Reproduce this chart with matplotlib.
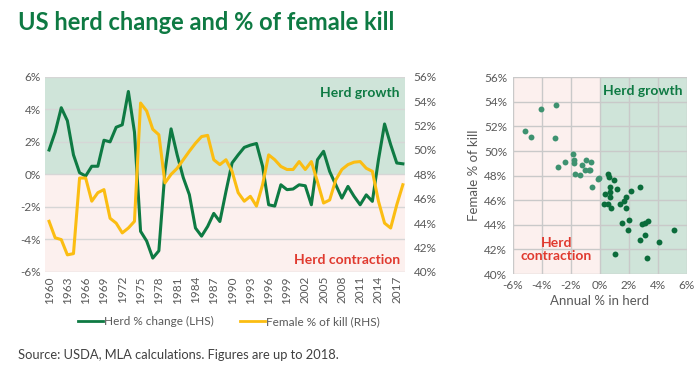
import numpy as np
import matplotlib.pyplot as plt
from matplotlib.lines import Line2D

plt.rcParams['font.family'] = ['Lato', 'DejaVu Sans']

years = list(range(1960, 2019))
herd_change = [1.5, 2.6, 4.1, 3.3, 1.2, 0.1, -0.1, 0.5, 0.5, 2.1,
               2.0, 2.9, 3.05, 5.1, 2.6, -3.5, -4.1, -5.15, -4.7, 0.2,
               2.8, 1.2, -0.2, -1.25, -3.3, -3.8, -3.2, -2.4, -2.9, -1.05,
               0.7, 1.2, 1.66, 1.8, 1.9, 0.5, -1.87, -1.95, -0.64, -0.94,
               -0.9, -0.64, -0.7, -1.87, 0.9, 1.42, 0.18, -0.64, -1.46, -0.74,
               -1.35, -1.87, -1.26, -1.66, 0.9, 3.1, 1.83, 0.7, 0.65]
female_kill = [44.15, 42.8, 42.65, 41.4, 41.5, 47.7, 47.7, 45.8, 46.5, 46.75,
               44.4, 44.0, 43.2, 43.6, 44.15, 53.85, 53.2, 51.7, 51.25, 47.3,
               48.0, 48.5, 49.2, 49.9, 50.55, 51.1, 51.2, 49.2, 48.8, 49.2,
               48.25, 46.5, 45.8, 46.2, 45.4, 47.15, 49.6, 49.2, 48.65, 48.4,
               48.4, 49.05, 48.4, 49.05, 47.4, 45.65, 45.9, 47.55, 48.4, 48.8,
               49.0, 49.05, 48.5, 48.25, 45.8, 44.0, 43.6, 45.5, 47.15]

# scatter: annual % in herd vs female % of kill
sc_herd = [-5.17, -4.71, -4.03, -3.04, -3.09, -2.86, -2.4, -1.85, -1.78, -1.78,
           -1.72, -1.33, -1.21, -1.03, -0.94, -0.76, -0.6, -0.64, -0.53, -0.11,
           -0.02, 0.57, 0.66, 0.96, 0.69, 0.69, 0.39, 0.73, 1.19, 2.15,
           2.79, 1.81, 1.65, 1.42, 1.81, 0.27, 0.57, 0.78, 1.53, 1.99,
           1.95, 2.91, 3.09, 3.32, 3.09, 2.75, 4.1, 5.13, 1.03, 3.25]
sc_female = [51.64, 51.12, 53.4, 53.75, 51.1, 48.68, 49.14, 49.74, 49.28, 49.0,
             48.11, 48.06, 48.87, 48.47, 49.28, 48.47, 49.09, 48.47, 47.06, 47.73,
             47.79, 48.11, 47.87, 47.65, 47.11, 46.7, 46.49, 46.3, 46.89, 46.76,
             47.11, 46.3, 45.95, 45.67, 45.4, 45.7, 45.7, 45.4, 44.13, 44.4,
             43.59, 44.08, 44.18, 44.32, 43.18, 42.78, 42.61, 43.59, 41.61, 41.34]

GREEN = '#0e7a43'
YELLOW = '#fbbd12'
RED = '#e03a2f'
BG_GREEN = '#cfe4d9'
BG_PINK = '#fcf0ee'
GRID = '#d6d6d6'
TXT = '#595959'

fig = plt.figure(figsize=(7, 3.73), dpi=100)

fig.text(0.026, 0.94, 'US herd change and % of female kill', fontsize=17,
         fontweight='bold', color=GREEN, va='center', ha='left')

# left chart
ax = fig.add_axes([0.064, 0.271, 0.515, 0.523])
ax.axhspan(0, 6, color=BG_GREEN, zorder=0, lw=0)
ax.axhspan(-6, 0, color=BG_PINK, zorder=0, lw=0)
ax.set_axisbelow(True)
ax.yaxis.grid(True, color=GRID, lw=1)
ax.set_ylim(-6, 6)
ax.set_xlim(1959.3, 2018.4)
ax.set_yticks(range(-6, 7, 2))
ax.set_yticklabels([f'{v}%' for v in range(-6, 7, 2)])
ax.set_xticks(years[::3])
ax.set_xticklabels([str(y) for y in years[::3]], rotation=90)
for s in ax.spines.values():
    s.set_visible(False)
ax.tick_params(length=0, labelsize=8.5, colors=TXT, pad=3)
ax.plot(years, herd_change, color=GREEN, lw=2.2, solid_joinstyle='round', zorder=3)

ax2 = ax.twinx()
ax2.set_ylim(40, 56)
ax2.set_yticks(range(40, 57, 2))
ax2.set_yticklabels([f'{v}%' for v in range(40, 57, 2)])
for s in ax2.spines.values():
    s.set_visible(False)
ax2.tick_params(length=0, labelsize=8.5, colors=TXT, pad=6)
ax2.plot(years, female_kill, color=YELLOW, lw=2.2, solid_joinstyle='round', zorder=3)

ax.text(0.985, 0.915, 'Herd growth', transform=ax.transAxes, ha='right', va='center',
        fontsize=10, fontweight='bold', color=GREEN)
ax.text(0.985, 0.06, 'Herd contraction', transform=ax.transAxes, ha='right', va='center',
        fontsize=10, fontweight='bold', color=RED)

handles = [Line2D([], [], color=GREEN, lw=2), Line2D([], [], color=YELLOW, lw=2)]
fig.legend(handles, ['Herd % change (LHS)', 'Female % of kill (RHS)'], ncol=2,
           loc='center', bbox_to_anchor=(0.327, 0.137), frameon=False,
           fontsize=8.5, labelcolor=TXT, handlelength=2.1, handletextpad=0.1,
           columnspacing=2.2)

fig.text(0.026, 0.048, 'Source: USDA, MLA calculations. Figures are up to 2018.',
         fontsize=9.3, color='#404040', ha='left', va='center')

# right scatter
bx = fig.add_axes([0.7324, 0.2654, 0.2486, 0.5274])
bx.axvspan(-6, 0, color=BG_PINK, zorder=0, lw=0)
bx.axvspan(0, 6, color=BG_GREEN, zorder=0, lw=0)
bx.set_axisbelow(True)
bx.grid(True, color='#c9c9c9', lw=1)
bx.set_xlim(-6, 6)
bx.set_ylim(40, 56)
bx.set_xticks(range(-6, 7, 2))
bx.set_xticklabels([f'{v}%' for v in range(-6, 7, 2)])
bx.set_yticks(range(40, 57, 2))
bx.set_yticklabels([f'{v}%' for v in range(40, 57, 2)])
for s in bx.spines.values():
    s.set_visible(False)
bx.tick_params(length=0, labelsize=8.5, colors=TXT, pad=4)
bx.set_xlabel('Annual % in herd', fontsize=9.5, color=TXT, labelpad=3)
bx.set_ylabel('Female % of kill', fontsize=9.5, color=TXT, labelpad=3)

sh = np.array(sc_herd)
sf = np.array(sc_female)
neg = sh < 0
bx.scatter(sh[neg], sf[neg], s=18, color='#3e9270', lw=0, zorder=3)
bx.scatter(sh[~neg], sf[~neg], s=18, color='#0b6c3b', lw=0, zorder=3)

bx.text(3.0, 54.9, 'Herd growth', ha='center', va='center', fontsize=10,
        fontweight='bold', color=GREEN)
bx.text(-3.0, 42.0, 'Herd\ncontraction', ha='center', va='center', fontsize=10,
        fontweight='bold', color=RED, linespacing=1.15)

fig.savefig('out.png', dpi=100)
